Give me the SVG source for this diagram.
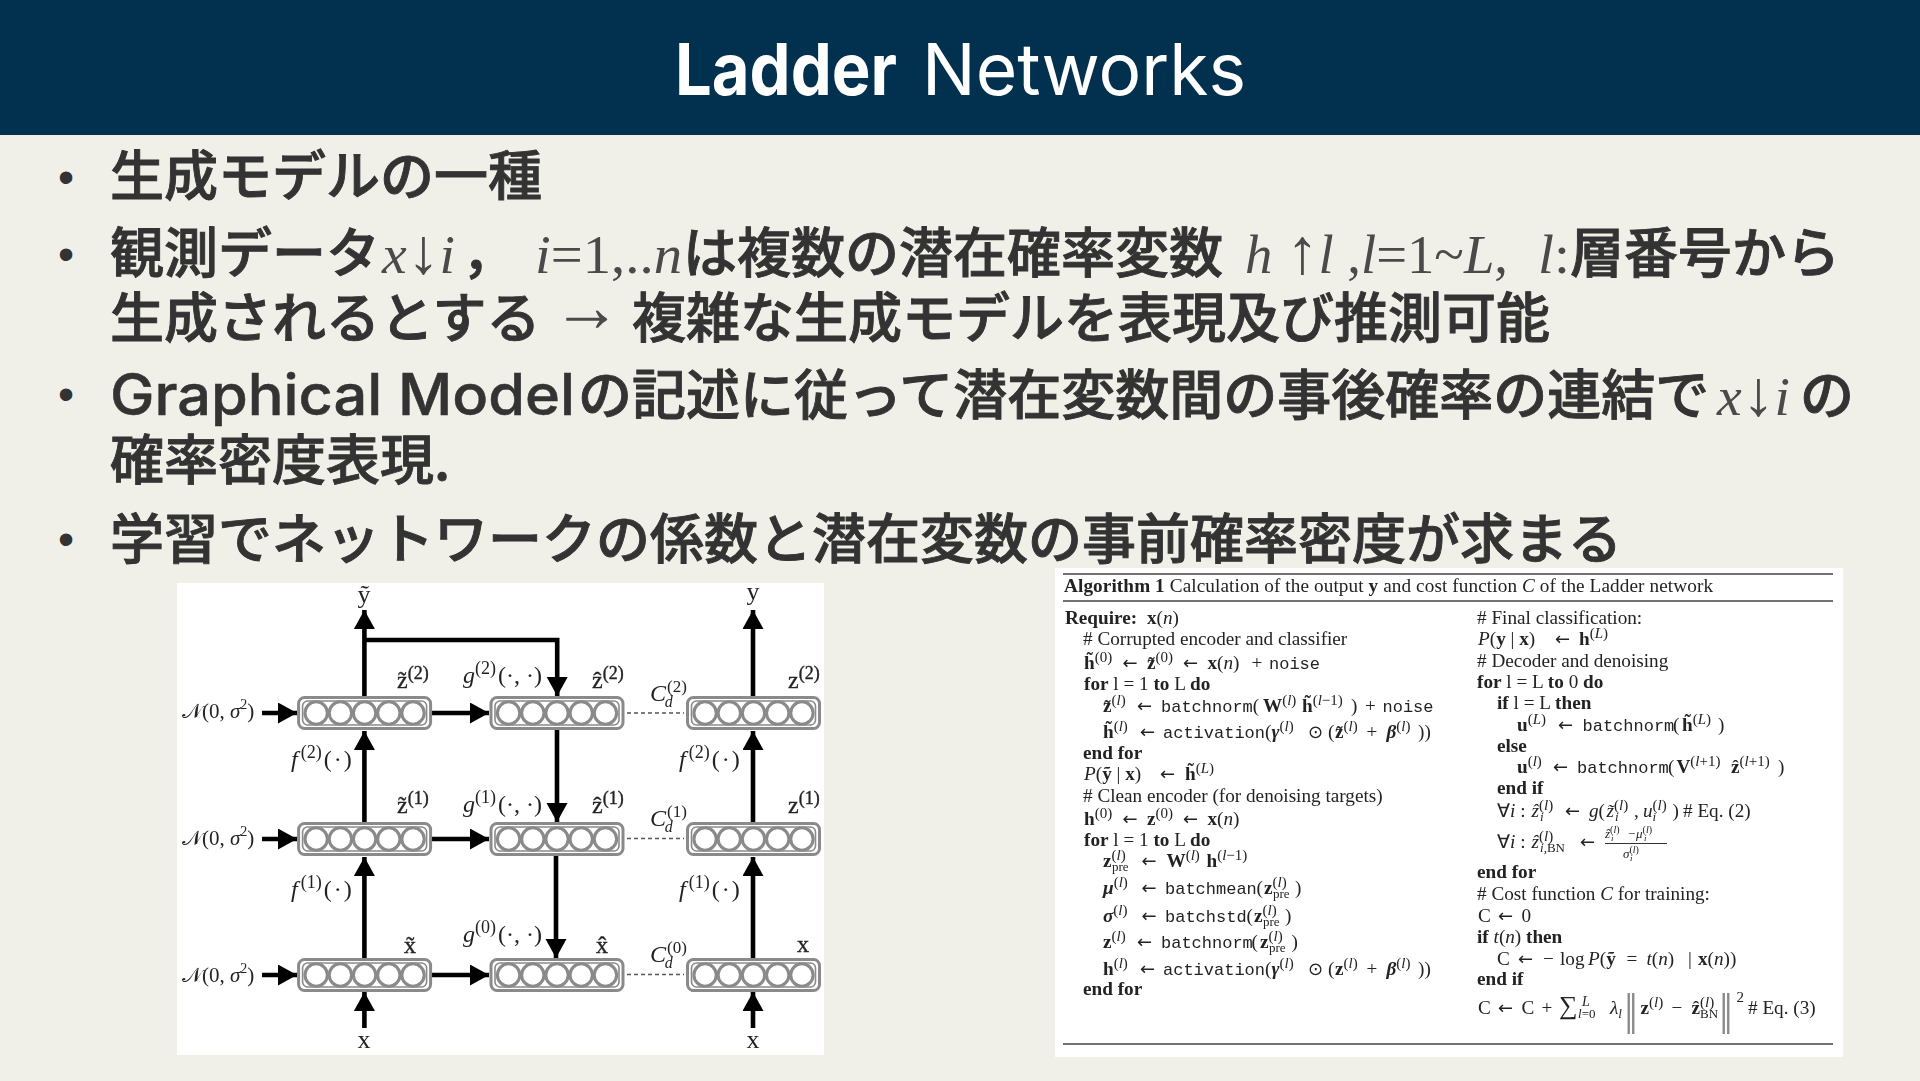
<svg xmlns="http://www.w3.org/2000/svg" xmlns:xlink="http://www.w3.org/1999/xlink" width="1920" height="1081" viewBox="0 0 1920 1081">
<style>
.b{font-family:"Noto Sans CJK JP","Noto Sans",sans-serif;font-size:54px;font-weight:500;fill:#333;stroke:#333;stroke-width:.9px}
.l{font-family:Inter,"Noto Sans",sans-serif;font-size:57px;font-weight:500;fill:#333;stroke:#333;stroke-width:.5px}
.m{font-family:"Liberation Serif",serif;font-size:54px;fill:#4a4a4a}
.i{font-style:italic}.B{font-weight:bold}
.ua{font-size:64px}
.d{font-family:"Liberation Sans",sans-serif;font-size:46px;fill:#333}
.t{font-family:Inter,"Noto Sans",sans-serif;font-size:72px;fill:#fff}
.g{font-family:"Liberation Serif",serif;font-size:24px;fill:#222}
.a{font-family:"Liberation Serif",serif;font-size:19.2px;fill:#222}
.s{stroke:#222;stroke-width:.35px}
.u{baseline-shift:7px;font-size:15px}
.w{baseline-shift:-4px;font-size:13px}
.gu{baseline-shift:9px;font-size:18px}
.gw{baseline-shift:-6px;font-size:16px}
.tt{font-family:"Liberation Mono",monospace;font-size:17px}
.la{font-family:"DejaVu Sans",sans-serif;font-size:18px}
.nm{font-size:40px;font-family:"DejaVu Sans",sans-serif;fill:#8a8a8a}
.box{fill:none;stroke:#8a8a8a;stroke-width:3}
.in{fill:none;stroke:#8a8a8a;stroke-width:1.6}
.c{fill:#fff;stroke:#8a8a8a;stroke-width:3.1}
.ar{fill:none;stroke:#000;stroke-width:4.6;marker-end:url(#h)}
.da{stroke:#555;stroke-width:1.5;stroke-dasharray:4 3}
.r{stroke:#444;stroke-width:1.6}
</style>
<defs>
<marker id="h" markerUnits="userSpaceOnUse" markerWidth="22" markerHeight="22" refX="19" refY="10.5" orient="auto"><path d="M0 0L19 10.5L0 21z" fill="#000"/></marker>
<filter id="soft" x="-2%" y="-2%" width="104%" height="104%"><feGaussianBlur stdDeviation="0.4"/></filter>
<g id="layer">
<rect class="box" x="-66" y="-15.5" width="132" height="31" rx="6"/>
<rect class="in" x="-62" y="-12" width="124" height="24" rx="5"/>
<circle class="c" cx="-48.4" r="11.2"/><circle class="c" cx="-24.2" r="11.2"/><circle class="c" r="11.2"/><circle class="c" cx="24.2" r="11.2"/><circle class="c" cx="48.4" r="11.2"/>
</g>
</defs>
<rect width="1920" height="1081" fill="#f0f0e8"/>
<rect id="header" width="1920" height="135" fill="#02304f"/>
<g id="title"><text class="t" x="675" y="95" font-weight="700" textLength="222" lengthAdjust="spacingAndGlyphs">Ladder</text><text class="t" x="922" y="95" textLength="324" lengthAdjust="spacingAndGlyphs">Networks</text></g>

<g id="bullets">
<text class="d" x="58" y="193">•</text><text class="d" x="58" y="270">•</text><text class="d" x="58" y="410">•</text><text class="d" x="58" y="555">•</text>
<text class="b" x="110" y="196">生成モデルの一種</text>
<text class="b" x="110" y="273">観測データ</text>
<text class="m" x="382" y="273" textLength="73" lengthAdjust="spacingAndGlyphs"><tspan class="i">x</tspan><tspan class="ua">↓</tspan><tspan class="i">i</tspan></text>
<text class="b" x="462" y="273">，</text>
<text class="m" x="535" y="273" textLength="147" lengthAdjust="spacingAndGlyphs"><tspan class="i">i</tspan>=1,..<tspan class="i">n</tspan></text>
<text class="b" x="683" y="273">は複数の潜在確率変数</text>
<text class="m" x="1245" y="273" textLength="263" lengthAdjust="spacingAndGlyphs"><tspan class="i">h </tspan><tspan class="ua">↑</tspan><tspan class="i">l</tspan> ,<tspan class="i">l</tspan>=1~<tspan class="i">L</tspan>,</text>
<text class="m" x="1538" y="273" textLength="32" lengthAdjust="spacingAndGlyphs"><tspan class="i">l</tspan>:</text>
<text class="b" x="1570" y="273">層番号から</text>
<text class="b" x="110" y="338">生成されるとする</text>
<text class="m" x="552" y="331" style="font-size:72px" textLength="69" lengthAdjust="spacingAndGlyphs">→</text>
<text class="b" x="632" y="338">複雑な生成モデルを表現及び推測可能</text>
<text class="l" x="110" y="415" textLength="465" lengthAdjust="spacingAndGlyphs">Graphical Model</text>
<text class="b" x="578" y="415">の記述に従って潜在変数間の事後確率の連結で</text>
<text class="m" x="1717" y="415" textLength="73" lengthAdjust="spacingAndGlyphs"><tspan class="i">x</tspan><tspan class="ua">↓</tspan><tspan class="i">i</tspan></text>
<text class="b" x="1800" y="415">の</text>
<text class="b" x="110" y="480">確率密度表現.</text>
<text class="b" x="110" y="559">学習でネットワークの係数と潜在変数の事前確率密度が求まる</text>
</g>

<rect id="ladder-panel" x="177" y="583" width="647" height="472" fill="#fff"/>
<g filter="url(#soft)">
<g id="connectors">
<path class="ar" d="M364.4 697V610"/><path class="ar" d="M753 697V610"/>
<path class="ar" d="M364.4 640H557.2V696"/>
<path class="ar" d="M262 713H297"/><path class="ar" d="M432 713H489"/>
<path class="ar" d="M262 839H297"/><path class="ar" d="M432 839H489"/>
<path class="ar" d="M262 975H297"/><path class="ar" d="M432 975H489"/>
<path class="ar" d="M364.4 823V731"/><path class="ar" d="M364.4 959V857"/><path class="ar" d="M364.4 1028V992"/>
<path class="ar" d="M753 823V731"/><path class="ar" d="M753 959V857"/><path class="ar" d="M753 1028V992"/>
<path class="ar" d="M557 729V822"/><path class="ar" d="M556 855V958"/>
<path class="da" d="M627 713H684M627 838.5H684M627 974.5H684"/>
</g>
<g id="z-tilde-2"><use xlink:href="#layer" href="#layer" x="364.6" y="713"/></g>
<g id="z-hat-2"><use xlink:href="#layer" href="#layer" x="557" y="713"/></g>
<g id="z-2"><use xlink:href="#layer" href="#layer" x="753.5" y="713"/></g>
<g id="z-tilde-1"><use xlink:href="#layer" href="#layer" x="364.6" y="839"/></g>
<g id="z-hat-1"><use xlink:href="#layer" href="#layer" x="557" y="839"/></g>
<g id="z-1"><use xlink:href="#layer" href="#layer" x="753.5" y="839"/></g>
<g id="x-tilde"><use xlink:href="#layer" href="#layer" x="364.6" y="975"/></g>
<g id="x-hat"><use xlink:href="#layer" href="#layer" x="557" y="975"/></g>
<g id="x-clean"><use xlink:href="#layer" href="#layer" x="753.5" y="975"/></g>
<g id="ladder-labels" class="g">
<text x="364" y="603" text-anchor="middle" font-size="26">ỹ</text><text x="753" y="600" text-anchor="middle" font-size="26">y</text>
<text x="364" y="1048" text-anchor="middle" font-size="26">x</text><text x="753" y="1048" text-anchor="middle" font-size="26">x</text>
<text x="182" y="718" font-size="21">𝒩(0, <tspan class="i">σ</tspan><tspan class="gu" style="font-size:14px">2</tspan>)</text>
<text x="182" y="845" font-size="21">𝒩(0, <tspan class="i">σ</tspan><tspan class="gu" style="font-size:14px">2</tspan>)</text>
<text x="182" y="982" font-size="21">𝒩(0, <tspan class="i">σ</tspan><tspan class="gu" style="font-size:14px">2</tspan>)</text>
<text x="397" y="688" class="s">z̃<tspan class="gu">(2)</tspan></text>
<text x="397" y="813" class="s">z̃<tspan class="gu">(1)</tspan></text>
<text x="404" y="953" class="s">x̃</text>
<text x="592" y="688" class="s">ẑ<tspan class="gu">(2)</tspan></text>
<text x="592" y="813" class="s">ẑ<tspan class="gu">(1)</tspan></text>
<text x="596" y="953" class="s">x̂</text>
<text x="788" y="688" class="s">z<tspan class="gu">(2)</tspan></text>
<text x="788" y="813" class="s">z<tspan class="gu">(1)</tspan></text>
<text x="797" y="952" class="s">x</text>
<text x="463" y="683"><tspan class="i">g</tspan><tspan class="gu">(2)</tspan><tspan dx="2">(·, ·)</tspan></text>
<text x="463" y="812"><tspan class="i">g</tspan><tspan class="gu">(1)</tspan><tspan dx="2">(·, ·)</tspan></text>
<text x="463" y="942"><tspan class="i">g</tspan><tspan class="gu">(0)</tspan><tspan dx="2">(·, ·)</tspan></text>
<text x="291" y="767"><tspan class="i">f</tspan><tspan class="gu" dx="3">(2)</tspan><tspan dx="2">(</tspan><tspan dx="2">·</tspan><tspan dx="2">)</tspan></text>
<text x="291" y="897"><tspan class="i">f</tspan><tspan class="gu" dx="3">(1)</tspan><tspan dx="2">(</tspan><tspan dx="2">·</tspan><tspan dx="2">)</tspan></text>
<text x="679" y="767"><tspan class="i">f</tspan><tspan class="gu" dx="3">(2)</tspan><tspan dx="2">(</tspan><tspan dx="2">·</tspan><tspan dx="2">)</tspan></text>
<text x="679" y="897"><tspan class="i">f</tspan><tspan class="gu" dx="3">(1)</tspan><tspan dx="2">(</tspan><tspan dx="2">·</tspan><tspan dx="2">)</tspan></text>
<text x="650" y="701"><tspan class="i">C</tspan><tspan class="gu" dx="1" style="font-size:17px">(2)</tspan><tspan class="gw i" dx="-22">d</tspan></text>
<text x="650" y="826"><tspan class="i">C</tspan><tspan class="gu" dx="1" style="font-size:17px">(1)</tspan><tspan class="gw i" dx="-22">d</tspan></text>
<text x="650" y="962"><tspan class="i">C</tspan><tspan class="gu" dx="1" style="font-size:17px">(0)</tspan><tspan class="gw i" dx="-22">d</tspan></text>
</g>
</g>

<rect id="algorithm-panel" x="1055" y="568" width="788" height="489" fill="#fff"/>
<g id="algorithm" class="a" filter="url(#soft)">
<path class="r" d="M1063 574H1833M1063 601H1833M1063 1044H1833"/>
<text x="1064" y="592" textLength="649"><tspan class="B">Algorithm 1</tspan> Calculation of the output <tspan class="B">y</tspan> and cost function <tspan class="i">C</tspan> of the Ladder network</text>

<text x="1065" y="624"><tspan class="B">Require:</tspan> <tspan x="1147" class="B">x</tspan>(<tspan class="i">n</tspan>)</text>
<text x="1083" y="645"># Corrupted encoder and classifier</text>
<text x="1084" y="669"><tspan class="B">h̃</tspan><tspan class="u">(0)</tspan><tspan class="la" x="1122.5">←</tspan><tspan class="B" x="1147">z̃</tspan><tspan class="u">(0)</tspan><tspan class="la" x="1183">←</tspan><tspan class="B" x="1207.5">x</tspan>(<tspan class="i">n</tspan>)<tspan x="1251.5">+</tspan><tspan class="tt" x="1269">noise</tspan></text>
<text x="1084" y="690"><tspan class="B">for</tspan> l = 1 <tspan class="B">to</tspan> L <tspan class="B">do</tspan></text>
<text x="1103" y="712"><tspan class="B">z̃</tspan><tspan class="u">(<tspan class="i">l</tspan>)</tspan><tspan class="la" x="1137">←</tspan><tspan class="tt" x="1161">batchnorm</tspan>(<tspan class="B" x="1263">W</tspan><tspan class="u">(<tspan class="i">l</tspan>)</tspan><tspan class="B" x="1302">h̃</tspan><tspan class="u">(<tspan class="i">l</tspan>−1)</tspan><tspan x="1351">)</tspan><tspan x="1365">+</tspan><tspan class="tt" x="1382.5">noise</tspan></text>
<text x="1103" y="738"><tspan class="B">h̃</tspan><tspan class="u">(<tspan class="i">l</tspan>)</tspan><tspan class="la" x="1140">←</tspan><tspan class="tt" x="1163">activation</tspan>(<tspan class="B i" x="1271.5">γ</tspan><tspan class="u">(<tspan class="i">l</tspan>)</tspan><tspan class="la" x="1308">⊙</tspan><tspan x="1328">(</tspan><tspan class="B" x="1335">z̃</tspan><tspan class="u">(<tspan class="i">l</tspan>)</tspan><tspan x="1366.5">+</tspan><tspan class="B i" x="1386.5">β</tspan><tspan class="u">(<tspan class="i">l</tspan>)</tspan><tspan x="1418">))</tspan></text>
<text x="1083" y="759" class="B">end for</text>
<text x="1084" y="780"><tspan class="i">P</tspan>(<tspan class="B">ỹ</tspan> | <tspan class="B">x</tspan>)<tspan class="la" x="1160">←</tspan><tspan class="B" x="1185">h̃</tspan><tspan class="u">(<tspan class="i">L</tspan>)</tspan></text>
<text x="1083" y="802"># Clean encoder (for denoising targets)</text>
<text x="1084" y="825"><tspan class="B">h</tspan><tspan class="u">(0)</tspan><tspan class="la" x="1122.5">←</tspan><tspan class="B" x="1147">z</tspan><tspan class="u">(0)</tspan><tspan class="la" x="1183">←</tspan><tspan class="B" x="1207.5">x</tspan>(<tspan class="i">n</tspan>)</text>
<text x="1084" y="846"><tspan class="B">for</tspan> l = 1 <tspan class="B">to</tspan> L <tspan class="B">do</tspan></text>
<text x="1103" y="867"><tspan class="B">z</tspan><tspan class="u">(<tspan class="i">l</tspan>)</tspan><tspan class="w" x="1112">pre</tspan><tspan class="la" x="1141.5">←</tspan><tspan class="B" x="1166.5">W</tspan><tspan class="u">(<tspan class="i">l</tspan>)</tspan><tspan class="B" x="1206.5">h</tspan><tspan class="u">(<tspan class="i">l</tspan>−1)</tspan></text>
<text x="1103" y="894"><tspan class="B i">μ</tspan><tspan class="u">(<tspan class="i">l</tspan>)</tspan><tspan class="la" x="1141.5">←</tspan><tspan class="tt" x="1165">batchmean</tspan><tspan x="1256.5">(</tspan><tspan class="B" x="1264">z</tspan><tspan class="u">(<tspan class="i">l</tspan>)</tspan><tspan class="w" x="1273">pre</tspan><tspan x="1295">)</tspan></text>
<text x="1103" y="922"><tspan class="B i">σ</tspan><tspan class="u">(<tspan class="i">l</tspan>)</tspan><tspan class="la" x="1141.5">←</tspan><tspan class="tt" x="1165">batchstd</tspan><tspan x="1246.5">(</tspan><tspan class="B" x="1254">z</tspan><tspan class="u">(<tspan class="i">l</tspan>)</tspan><tspan class="w" x="1263">pre</tspan><tspan x="1285">)</tspan></text>
<text x="1103" y="948"><tspan class="B">z</tspan><tspan class="u">(<tspan class="i">l</tspan>)</tspan><tspan class="la" x="1137">←</tspan><tspan class="tt" x="1161">batchnorm</tspan><tspan x="1251.5">(</tspan><tspan class="B" x="1260">z</tspan><tspan class="u">(<tspan class="i">l</tspan>)</tspan><tspan class="w" x="1269">pre</tspan><tspan x="1291.5">)</tspan></text>
<text x="1103" y="975"><tspan class="B">h</tspan><tspan class="u">(<tspan class="i">l</tspan>)</tspan><tspan class="la" x="1140">←</tspan><tspan class="tt" x="1163">activation</tspan>(<tspan class="B i" x="1271.5">γ</tspan><tspan class="u">(<tspan class="i">l</tspan>)</tspan><tspan class="la" x="1308">⊙</tspan><tspan x="1328">(</tspan><tspan class="B" x="1335">z</tspan><tspan class="u">(<tspan class="i">l</tspan>)</tspan><tspan x="1366.5">+</tspan><tspan class="B i" x="1386.5">β</tspan><tspan class="u">(<tspan class="i">l</tspan>)</tspan><tspan x="1418">))</tspan></text>
<text x="1083" y="995" class="B">end for</text>

<text x="1477" y="624"># Final classification:</text>
<text x="1478" y="645"><tspan class="i">P</tspan>(<tspan class="B">y</tspan> | <tspan class="B">x</tspan>)<tspan class="la" x="1555">←</tspan><tspan class="B" x="1579">h</tspan><tspan class="u">(<tspan class="i">L</tspan>)</tspan></text>
<text x="1477" y="667"># Decoder and denoising</text>
<text x="1477" y="688"><tspan class="B">for</tspan> l = L <tspan class="B">to</tspan> 0 <tspan class="B">do</tspan></text>
<text x="1497" y="709"><tspan class="B">if</tspan> l = L <tspan class="B">then</tspan></text>
<text x="1517" y="731"><tspan class="B">u</tspan><tspan class="u">(<tspan class="i">L</tspan>)</tspan><tspan class="la" x="1558">←</tspan><tspan class="tt" x="1582.5">batchnorm</tspan><tspan x="1673">(</tspan><tspan class="B" x="1682">h̃</tspan><tspan class="u">(<tspan class="i">L</tspan>)</tspan><tspan x="1718">)</tspan></text>
<text x="1497" y="752" class="B">else</text>
<text x="1517" y="773"><tspan class="B">u</tspan><tspan class="u">(<tspan class="i">l</tspan>)</tspan><tspan class="la" x="1553">←</tspan><tspan class="tt" x="1577">batchnorm</tspan><tspan x="1668">(</tspan><tspan class="B" x="1676.5">V</tspan><tspan class="u">(<tspan class="i">l</tspan>+1)</tspan><tspan class="B" x="1731">ẑ</tspan><tspan class="u">(<tspan class="i">l</tspan>+1)</tspan><tspan x="1778">)</tspan></text>
<text x="1497" y="794" class="B">end if</text>
<text x="1497" y="817">∀<tspan class="i">i</tspan> :<tspan class="i" x="1531.5">ẑ</tspan><tspan class="u">(<tspan class="i">l</tspan>)</tspan><tspan class="w i" x="1540">i</tspan><tspan class="la" x="1565">←</tspan><tspan class="i" x="1589">g</tspan>(<tspan class="i" x="1606.5">z̃</tspan><tspan class="u">(<tspan class="i">l</tspan>)</tspan><tspan class="w i" x="1615">i</tspan><tspan x="1634">,</tspan><tspan class="i" x="1643">u</tspan><tspan class="u">(<tspan class="i">l</tspan>)</tspan><tspan class="w i" x="1652.5">i</tspan><tspan x="1672.5">)</tspan><tspan x="1683"># Eq. (2)</tspan></text>
<text x="1497" y="848">∀<tspan class="i">i</tspan> :<tspan class="i" x="1531.5">ẑ</tspan><tspan class="u">(<tspan class="i">l</tspan>)</tspan><tspan class="w" x="1540"><tspan class="i">i</tspan>,BN</tspan><tspan class="la" x="1580">←</tspan></text>
<text x="1605" y="838" font-size="13"><tspan class="i">ẑ</tspan><tspan style="font-size:10px;baseline-shift:5px">(<tspan class="i">l</tspan>)</tspan><tspan style="font-size:9px;baseline-shift:-3px" x="1611" class="i">i</tspan><tspan x="1628">−</tspan><tspan class="i" x="1636">μ</tspan><tspan style="font-size:10px;baseline-shift:5px">(<tspan class="i">l</tspan>)</tspan><tspan style="font-size:9px;baseline-shift:-3px" x="1644" class="i">i</tspan></text>
<path d="M1605 843.5H1667" stroke="#333" stroke-width="1"/>
<text x="1623" y="858" font-size="13"><tspan class="i">σ</tspan><tspan style="font-size:10px;baseline-shift:5px">(<tspan class="i">l</tspan>)</tspan><tspan style="font-size:9px;baseline-shift:-3px" x="1630" class="i">i</tspan></text>
<text x="1477" y="878" class="B">end for</text>
<text x="1477" y="900"># Cost function <tspan class="i">C</tspan> for training:</text>
<text x="1478" y="922">C<tspan class="la" x="1498">←</tspan><tspan x="1521.5">0</tspan></text>
<text x="1477" y="943"><tspan class="B">if</tspan> <tspan class="i">t</tspan>(<tspan class="i">n</tspan>) <tspan class="B">then</tspan></text>
<text x="1497" y="965">C<tspan class="la" x="1518">←</tspan><tspan x="1543">−</tspan><tspan x="1560">log</tspan><tspan class="i" x="1588">P</tspan>(<tspan class="B">ỹ</tspan><tspan x="1626.5">=</tspan><tspan class="i" x="1646.5">t</tspan>(<tspan class="i">n</tspan>)<tspan x="1688">|</tspan><tspan class="B" x="1698">x</tspan>(<tspan class="i">n</tspan>))</text>
<text x="1477" y="985" class="B">end if</text>
<text x="1478" y="1014">C<tspan class="la" x="1498">←</tspan><tspan x="1521.5">C</tspan><tspan x="1541.5">+</tspan><tspan font-size="26" x="1559">∑</tspan><tspan class="i" style="font-size:14px;baseline-shift:8px" x="1582">L</tspan><tspan class="w" x="1578"><tspan class="i">l</tspan>=0</tspan><tspan class="i" x="1610">λ</tspan><tspan class="w i">l</tspan><tspan class="B" x="1640.5">z</tspan><tspan class="u">(<tspan class="i">l</tspan>)</tspan><tspan x="1671.5">−</tspan><tspan class="B" x="1691.5">ẑ</tspan><tspan class="u">(<tspan class="i">l</tspan>)</tspan><tspan class="w" x="1700">BN</tspan><tspan class="u" x="1736.5" style="baseline-shift:12px">2</tspan><tspan x="1748"># Eq. (3)</tspan></text>
<text class="nm" x="1624" y="1024" textLength="14" lengthAdjust="spacingAndGlyphs">‖</text>
<text class="nm" x="1719" y="1024" textLength="14" lengthAdjust="spacingAndGlyphs">‖</text>
</g>
</svg>
